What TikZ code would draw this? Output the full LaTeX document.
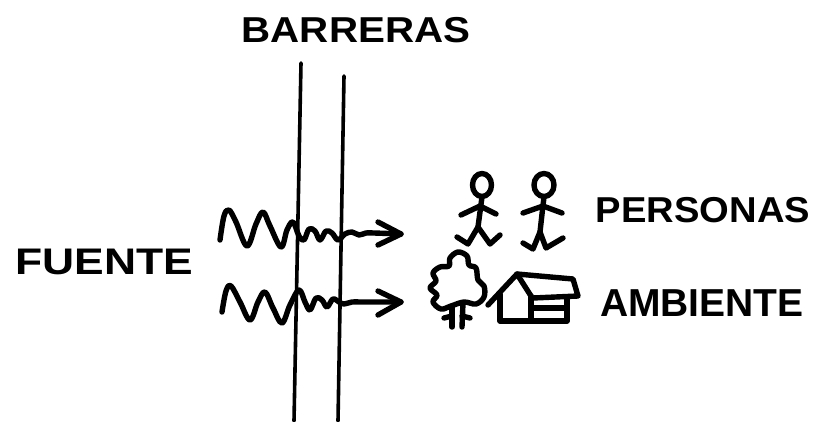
\documentclass[tikz,border=0pt]{standalone}
\usepackage{fontspec}
\setmainfont{Liberation Sans}
\begin{document}
\begin{tikzpicture}[x=1pt,y=-1pt,
  ink/.style={line width=5.4pt,line cap=round,line join=round},
  wall/.style={line width=3.6pt,line cap=round},
  label/.style={inner sep=0pt,anchor=center,font=\bfseries}]
\useasboundingbox (0,0) rectangle (825,421);

% titles
\node[label,font=\bfseries\fontsize{36}{36}\selectfont] (barreras) at (356,30) {\scalebox{1.12}[1]{BARRERAS}};
\node[label,font=\bfseries\fontsize{37}{37}\selectfont] (fuente) at (104,262) {\scalebox{1.2}[1]{FUENTE}};
\node[label,font=\bfseries\fontsize{36}{36}\selectfont] (personas) at (703,210) {\scalebox{1.06}[1]{PERSONAS}};
\node[label,font=\bfseries\fontsize{39}{39}\selectfont] (ambiente) at (702,303) {\scalebox{1.0}[1]{AMBIENTE}};

% the two barriers
\coordinate (b1t) at (301,63);  \coordinate (b1b) at (294,421);
\coordinate (b2t) at (344,76);  \coordinate (b2b) at (338,421);
\draw[wall] (b1t) -- (b1b);
\draw[wall] (b2t) -- (b2b);

% upper wave, damped through the barriers
\coordinate (tip1) at (401,234);
\draw[ink] plot[smooth,tension=0.6] coordinates {
  (220,240) (224,216) (229,210) (236,222) (247,246) (256,224) (263,212) (270,226) (281,247)
  (287,230) (293,222) (299,236) (304,240) (309,229) (315,231) (320,240) (326,231)
  (332,233) (338,240) (345,234) (352,232) (359,235) (366,233) (374,233) (tip1)};
\draw[ink] (378,222) -- (tip1) -- (378,245);

% lower wave
\coordinate (tip2) at (401,302);
\draw[ink] plot[smooth,tension=0.6] coordinates {
  (222,312) (226,291) (231,286) (240,302) (250,320) (258,302) (265,292) (273,308) (282,323)
  (290,305) (299,290) (305,302) (310,310) (316,298) (322,300) (327,307) (333,299)
  (339,302) (344,304) (352,302) (360,302) (370,302) (tip2)};
\draw[ink] (378,291) -- (tip2) -- (378,315);

% first walker
\draw[ink] (482,185) ellipse [x radius=9.5,y radius=11.5];
\draw[ink] (482,197) -- (480,212) -- (478,227);
\draw[ink] (461,215) -- (480,206) -- (496,214);
\draw[ink] (457,237) -- (468,244) -- (478,227) -- (490,244) -- (500,235);

% second walker
\draw[ink] (544,185) ellipse [x radius=10,y radius=11.5];
\draw[ink] (544,197) -- (542,214) -- (540,232);
\draw[ink] (523,213) -- (543,206) -- (562,213);
\draw[ink] (523,243) -- (533,249) -- (540,232) -- (546,248) -- (563,238);

% tree
\draw[ink] plot[smooth cycle,tension=0.6] coordinates {
  (451,306) (441,309) (433,302) (437,295) (430,288) (436,281) (433,273)
  (440,267) (449,266) (450,258) (458,252) (467,256) (469,265) (476,268)
  (478,280) (484,286) (484,297) (476,304) (464,302)};
\draw[ink] (452,307) -- (452,327);
\draw[ink] (463,303) -- (462,327);
\draw[ink] (444,318) -- (452,316);
\draw[ink] (462,316) -- (470,318);

% house
\draw[ink] (488,305) -- (517,274) -- (531,296);
\draw[ink] (500,294) -- (500,321) -- (567,321) -- (567,299);
\draw[ink] (531,296) -- (531,321);
\draw[ink] (517,274) -- (573,279) -- (578,296) -- (533,298);
\draw[ink] (533,308) -- (566,308);
\end{tikzpicture}
\end{document}
